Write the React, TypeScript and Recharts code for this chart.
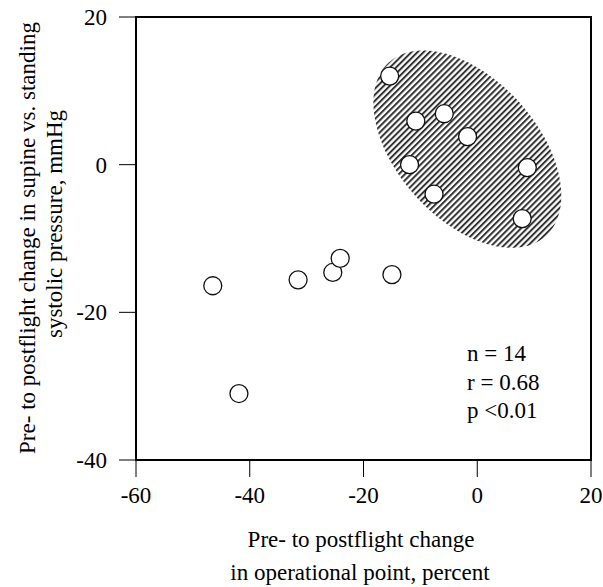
import {
  Customized,
  ReferenceArea,
  Scatter,
  ScatterChart,
  XAxis,
  YAxis,
} from "recharts";

// pre- to postflight change in operational point, percent
const opPointChange = [
  -15.4, -10.8, -5.8, -1.7, -11.9, -7.6, 8.8, 7.9, -46.5, -31.5, -25.4, -24.1,
  -15.0, -41.9,
];
// pre- to postflight change in supine vs. standing systolic pressure, mmHg
const pressureChange = [
  12.0, 5.9, 6.9, 3.8, 0.0, -4.0, -0.4, -7.3, -16.4, -15.6, -14.6, -12.7,
  -14.9, -31.0,
];

const xTicks = [-60, -40, -20, 0, 20];
const yTicks = [-40, -20, 0, 20];

// bounding box of the hatched cluster, in data units
const clusterX = [-18.35, 14.87];
const clusterY = [-11.1, 15.3];

const statsLines = ["n = 14", "r = 0.68", "p <0.01"];

const FONT = "'Liberation Serif', 'Times New Roman', serif";
const FS = 23;

const points = opPointChange.map((x, i) => ({ x, y: pressureChange[i] }));

const Marker = (props: any) => {
  const { cx, cy } = props;
  return (
    <circle cx={cx} cy={cy} r={9} fill="#fff" stroke="#111" strokeWidth={1.3} />
  );
};

// tilted ellipse inscribed in the reference box, filled with diagonal hatching
const HatchedEllipse = (props: any) => {
  const { x, y, width, height } = props;
  const cx = x + width / 2;
  const cy = y + height / 2;
  const rx = width * 0.619;
  const ry = height * 0.359;
  const th = (48 * Math.PI) / 180;
  let d = "";
  for (let k = 0; k <= 120; k++) {
    const t = (k / 120) * Math.PI * 2;
    const px = cx + rx * Math.cos(t) * Math.cos(th) - ry * Math.sin(t) * Math.sin(th);
    const py = cy + rx * Math.cos(t) * Math.sin(th) + ry * Math.sin(t) * Math.cos(th);
    d += `${k === 0 ? "M" : "L"}${px.toFixed(2)},${py.toFixed(2)}`;
  }
  return (
    <g>
      <defs>
        <pattern
          id="hatch"
          patternUnits="userSpaceOnUse"
          width={4.3}
          height={4.3}
          patternTransform="rotate(45)"
        >
          <line x1={1} y1={0} x2={1} y2={4.3} stroke="#333" strokeWidth={2} />
        </pattern>
      </defs>
      <path d={d + "Z"} fill="url(#hatch)" />
    </g>
  );
};

const Labels = () => (
  <g fontFamily={FONT} fontSize={FS} fill="#000">
    <text x={361} y={547} textAnchor="middle">
      Pre- to postflight change
    </text>
    <text x={360} y={580} textAnchor="middle">
      in operational point, percent
    </text>
    <text x={35} y={238} textAnchor="middle" transform="rotate(-90 35 238)">
      Pre- to postflight change in supine vs. standing
    </text>
    <text x={62} y={224} textAnchor="middle" transform="rotate(-90 62 224)">
      systolic pressure, mmHg
    </text>
    {statsLines.map((s, i) => (
      <text key={s} x={467} y={361 + i * 28.5}>
        {s}
      </text>
    ))}
  </g>
);

export default function App() {
  return (
    <div style={{ position: "absolute", left: 0, top: 0, background: "#fff" }}>
      <ScatterChart
        width={603}
        height={587}
        margin={{ top: 17, right: 12, bottom: 87, left: 0 }}
      >
        <XAxis
          type="number"
          dataKey="x"
          domain={[-60, 20]}
          ticks={xTicks}
          height={40}
          tickSize={17}
          tickMargin={10}
          axisLine={{ stroke: "#000", strokeWidth: 2 }}
          tickLine={{ stroke: "#000", strokeWidth: 1 }}
          tick={{ fill: "#000", fontSize: FS, fontFamily: FONT }}
          interval={0}
        />
        <YAxis
          type="number"
          dataKey="y"
          domain={[-40, 20]}
          ticks={yTicks}
          width={136}
          tickSize={17}
          tickMargin={12}
          axisLine={{ stroke: "#000", strokeWidth: 2 }}
          tickLine={{ stroke: "#000", strokeWidth: 1 }}
          tick={{ fill: "#000", fontSize: FS, fontFamily: FONT }}
          interval={0}
        />
        <ReferenceArea
          x1={-60}
          x2={20}
          y1={-40}
          y2={20}
          fill="none"
          stroke="#000"
          strokeWidth={2}
          fillOpacity={0}
        />
        <ReferenceArea
          x1={clusterX[0]}
          x2={clusterX[1]}
          y1={clusterY[0]}
          y2={clusterY[1]}
          shape={HatchedEllipse}
        />
        <Scatter data={points} shape={Marker} isAnimationActive={false} />
        <Customized component={<Labels />} />
      </ScatterChart>
    </div>
  );
}
